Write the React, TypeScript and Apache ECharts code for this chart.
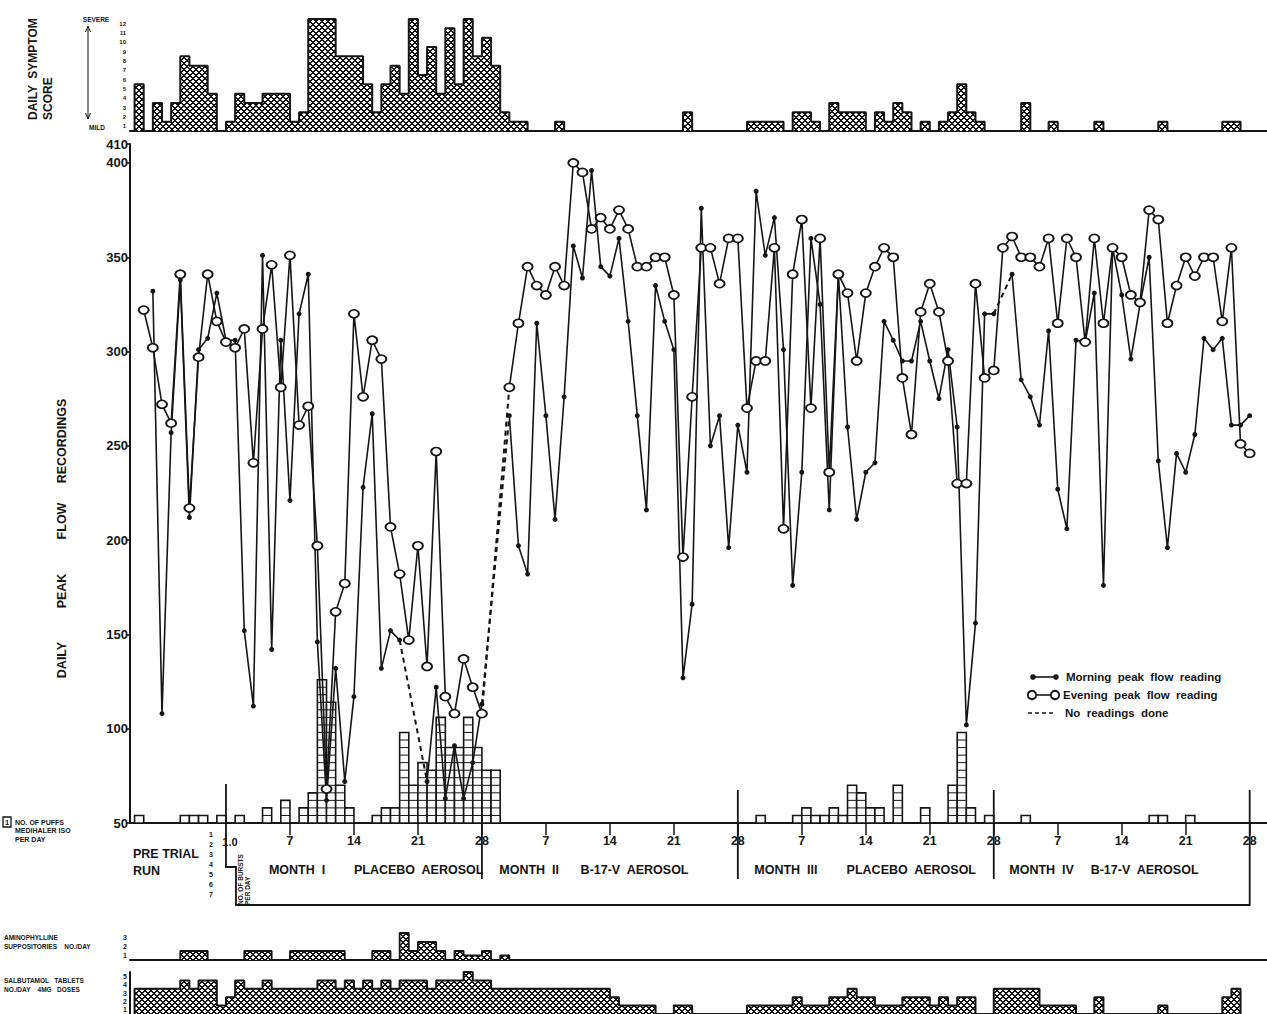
import React, { useEffect, useRef } from "react";
import * as echarts from "echarts";

// ---------- DATA ----------
// Day index: pre-trial run days are -10..0, Month I day 1 = 1, Month II day 1 = 29,
// Month III day 1 = 57, Month IV day 1 = 85 (so day 112 = Month IV day 28).
const FIRST_DAY = -10;

// Morning peak flow reading (l/min), days -10..112, null = no reading
const morningPeakFlow: (number | null)[] = [
  null, null, 332, 108, 257, 338, 212, 301, 307, 331,
  306, 306, 152, 112, 351, 142, 306, 221, 320, 341,
  146, 62, 132, 72, 117, 228, 267, 132, 152, 147,
  null, null, 72, 122, 63, 91, 63, 82, 113, null,
  null, 266, 197, 182, 315, 266, 211, 276, 356, 339,
  396, 345, 340, 360, 316, 266, 216, 335, 316, 301,
  127, 166, 376, 250, 266, 196, 261, 236, 385, 351,
  371, 301, 176, 236, 360, 325, 216, 341, 260, 211,
  236, 241, 316, 306, 295, 295, 316, 295, 275, 301,
  260, 102, 156, 320, 320, null, 341, 285, 276, 261,
  311, 227, 206, 306, 305, 331, 176, 355, 330, 296,
  325, 350, 242, 196, 246, 236, 256, 307, 301, 307,
  261, 261, 266,
];

// Evening peak flow reading (l/min), days -10..112
const eveningPeakFlow: (number | null)[] = [
  null, 322, 302, 272, 262, 341, 217, 297, 341, 316,
  305, 302, 312, 241, 312, 346, 281, 351, 261, 271,
  197, 68, 162, 177, 320, 276, 306, 296, 207, 182,
  147, 197, 133, 247, 117, 108, 137, 122, 108, null,
  null, 281, 315, 345, 335, 330, 345, 335, 400, 395,
  365, 371, 365, 375, 365, 345, 345, 350, 350, 330,
  191, 276, 355, 355, 336, 360, 360, 270, 295, 295,
  355, 206, 341, 370, 270, 360, 236, 341, 331, 295,
  331, 345, 355, 350, 286, 256, 321, 336, 321, 295,
  230, 230, 336, 286, 290, 355, 361, 350, 350, 345,
  360, 315, 360, 350, 305, 360, 315, 355, 350, 330,
  326, 375, 370, 315, 335, 350, 340, 350, 350, 316,
  355, 251, 246,
];

// Number of puffs Medihaler Iso per day: [day, puffs]
const puffsPerDay: [number, number][] = [
  [-10, 1], [-5, 1], [-4, 1], [-3, 1], [-1, 1], [1, 1], [4, 2], [6, 3], [8, 2], [9, 4],
  [10, 19], [11, 16], [12, 5], [13, 2], [16, 1], [17, 2], [18, 2], [19, 12], [20, 5],
  [21, 8], [22, 7], [23, 14], [24, 10], [25, 10], [26, 14], [27, 10], [28, 7], [29, 7],
  [58, 1], [62, 1], [63, 2], [64, 1], [65, 1], [66, 2], [67, 1], [68, 5], [69, 4],
  [70, 2], [71, 2], [73, 5], [76, 2], [79, 5], [80, 12], [81, 2], [83, 1],
  [87, 1], [101, 1], [102, 1], [105, 1],
];

// Daily symptom score: [day, score]
const symptomScore: [number, number][] = [
  [-10, 5], [-8, 3], [-7, 1], [-6, 3], [-5, 8], [-4, 7], [-3, 7], [-2, 4], [0, 1], [1, 4],
  [2, 3], [3, 3], [4, 4], [5, 4], [6, 4], [7, 1], [8, 2], [9, 12], [10, 12], [11, 12],
  [12, 8], [13, 8], [14, 8], [15, 5], [16, 2], [17, 5], [18, 7], [19, 4], [20, 12],
  [21, 6], [22, 9], [23, 4], [24, 11], [25, 5], [26, 12], [27, 8], [28, 10], [29, 7],
  [30, 2], [31, 1], [32, 1], [36, 1], [50, 2], [57, 1], [58, 1], [59, 1], [60, 1],
  [62, 2], [63, 2], [64, 1], [66, 3], [67, 2], [68, 2], [69, 2], [71, 2], [72, 1],
  [73, 3], [74, 2], [76, 1], [78, 1], [79, 2], [80, 5], [81, 2], [82, 1], [87, 3],
  [90, 1], [95, 1], [102, 1], [109, 1], [110, 1],
];

// Aminophylline suppositories no./day: [day, count]
const aminophyllinePerDay: [number, number][] = [
  [-5, 1], [-4, 1], [-3, 1], [2, 1], [3, 1], [4, 1], [7, 1], [8, 1], [9, 1], [10, 1],
  [11, 1], [12, 1], [16, 1], [17, 1], [19, 3], [20, 1], [21, 2], [22, 2], [23, 1],
  [25, 1], [26, 0.5], [27, 0.5], [28, 1], [30, 0.5],
];

// Salbutamol tablets no./day (4 mg doses): [day, count]
const salbutamolPerDay: [number, number][] = [
  [-10, 3], [-9, 3], [-8, 3], [-7, 3], [-6, 3], [-5, 4], [-4, 3], [-3, 4], [-2, 4], [-1, 1],
  [0, 2], [1, 4], [2, 3], [3, 3], [4, 4], [5, 3], [6, 3], [7, 3], [8, 3], [9, 3],
  [10, 4], [11, 4], [12, 3], [13, 4], [14, 3], [15, 4], [16, 3], [17, 4], [18, 3],
  [19, 4], [20, 4], [21, 4], [22, 3], [23, 4], [24, 4], [25, 4], [26, 5], [27, 4], [28, 4],
  [29, 3], [30, 3], [31, 3], [32, 3], [33, 3], [34, 3], [35, 3], [36, 3], [37, 3], [38, 3],
  [39, 3], [40, 3], [41, 3], [42, 2], [43, 1], [44, 1], [45, 1], [46, 1], [49, 1], [50, 1],
  [57, 1], [58, 1], [59, 1], [60, 1], [61, 1], [62, 2], [63, 1], [64, 1], [65, 1], [66, 2],
  [67, 2], [68, 3], [69, 2], [70, 2], [71, 1], [72, 1], [73, 1], [74, 2], [75, 2], [76, 2],
  [77, 1], [78, 2], [79, 1], [80, 2], [81, 2], [84, 3], [85, 3], [86, 3], [87, 3], [88, 3],
  [89, 1], [90, 1], [91, 1], [92, 1], [95, 2], [102, 1], [109, 2], [110, 3],
];

const peakFlowTicks = [50, 100, 150, 200, 250, 300, 350, 400, 410];
const dayTicks = [7, 14, 21, 28, 35, 42, 49, 56, 63, 70, 77, 84, 91, 98, 105, 112];
const symptomTicks = [0.5, 1.5, 2.5, 3.5, 4.5, 5.5, 6.5, 7.5, 8.5, 9.5, 10.5, 11.5];
const aminoTicks = [0.5, 1.5, 2.5];
const salbuTicks = [0.5, 1.5, 2.5, 3.5, 4.5];
const monthLabels = [
  { text: "MONTH  I", day: 4.7 }, { text: "PLACEBO  AEROSOL", day: 14 },
  { text: "MONTH  II", day: 29.9 }, { text: "B-17-V  AEROSOL", day: 38.8 },
  { text: "MONTH  III", day: 57.8 }, { text: "PLACEBO  AEROSOL", day: 67.9 },
  { text: "MONTH  IV", day: 85.7 }, { text: "B-17-V  AEROSOL", day: 94.6 },
];

// ---------- HELPERS ----------
const INK = "#151515";
const FONT = '"Liberation Sans", Arial, sans-serif';

function makeMesh() {
  const n = 6;
  const c = document.createElement("canvas");
  c.width = n;
  c.height = n;
  const g = c.getContext("2d")!;
  const img = g.createImageData(n, n);
  for (let j = 0; j < n; j++) {
    for (let i = 0; i < n; i++) {
      const a = (i + j) % n;
      const b = (i - j + n) % n;
      const dark = a < 2 || b < 2;
      const k = (j * n + i) * 4;
      const v = dark ? 20 : 255;
      img.data[k] = v; img.data[k + 1] = v; img.data[k + 2] = v; img.data[k + 3] = 255;
    }
  }
  g.putImageData(img, 0, 0);
  return { image: c, repeat: "repeat", imageWidth: n, imageHeight: n } as any;
}

function stepData(pairs: [number, number][]) {
  const m = new Map<number, number>(pairs);
  const days = pairs.map((p) => p[0]);
  const lo = Math.min(...days);
  const hi = Math.max(...days);
  const out: [number, number][] = [[lo, 0]];
  for (let d = lo; d <= hi; d++) out.push([d, m.get(d) ?? 0]);
  out.push([hi + 1, 0]);
  return out;
}

function lineData(values: (number | null)[]) {
  return values.map((v, i) => [i + FIRST_DAY, v == null ? "-" : v]);
}

function gapData(values: (number | null)[]) {
  const out: any[] = [];
  let last = -1;
  values.forEach((v, i) => {
    if (v == null) return;
    if (last >= 0 && i - last > 1) {
      out.push([last + FIRST_DAY, values[last]]);
      out.push([i + FIRST_DAY, v]);
      out.push([i + FIRST_DAY + 0.01, "-"]);
    }
    last = i;
  });
  return out;
}

function txt(text: string, x: number, y: number, size: number, opt: any = {}) {
  const align = opt.align || "left";
  const va = opt.va || "middle";
  return {
    type: "text", x, y, rotation: opt.rot || 0, silent: true, z: 10,
    style: {
      text, font: `${opt.weight || "bold"} ${size}px ${FONT}`, fill: INK,
      align, verticalAlign: va, textAlign: align, textVerticalAlign: va,
    },
  };
}
function ln(x1: number, y1: number, x2: number, y2: number, w = 1.8, dash?: number[]) {
  return {
    type: "line", silent: true, z: 10, shape: { x1, y1, x2, y2 },
    style: { stroke: INK, lineWidth: w, lineDash: dash || null },
  };
}

const XMIN = -10.5;
const XMAX = 113.5;
const GRID_LEFT = 130;
const GRID_W = 1133.4;

function baseX(gridIndex: number) {
  return {
    type: "value", gridIndex, min: XMIN, max: XMAX,
    axisLine: { show: true, onZero: false, lineStyle: { color: INK, width: 2 } },
    axisTick: { show: false }, axisLabel: { show: false }, splitLine: { show: false },
  };
}

export default function App() {
  const ref = useRef<HTMLDivElement>(null);
  useEffect(() => {
    if (!ref.current) return;
    const chart = echarts.init(ref.current, null, { renderer: "svg" });
    const mesh = makeMesh();

    const smallLabel = (size: number) => ({
      show: true, fontSize: size, fontWeight: "bold", color: INK, fontFamily: FONT, margin: 3,
      formatter: (v: number) => String(Math.ceil(v)),
    });

    const option: any = {
      animation: false,
      backgroundColor: "#fff",
      grid: [
        { left: GRID_LEFT, width: GRID_W, top: 19, height: 112 },
        { left: GRID_LEFT, width: GRID_W, top: 144.1, height: 678.9 },
        { left: GRID_LEFT, width: GRID_W, top: 933, height: 27 },
        { left: GRID_LEFT, width: GRID_W, top: 972, height: 45 },
      ],
      xAxis: [
        baseX(0),
        {
          ...baseX(1),
          axisTick: { show: true, customValues: dayTicks, length: 12, lineStyle: { color: INK, width: 1.5 } },
          axisLabel: {
            show: true, customValues: dayTicks, margin: 11, fontSize: 12.5, fontWeight: "bold",
            color: INK, fontFamily: FONT, formatter: (v: number) => String(((v - 1) % 28) + 1),
          },
        },
        baseX(2),
        { ...baseX(3), axisLine: { show: false } },
      ],
      yAxis: [
        {
          type: "value", gridIndex: 0, min: 0, max: 12, splitLine: { show: false },
          axisLine: { show: false, onZero: false }, axisTick: { show: false },
          axisLabel: { ...smallLabel(6), customValues: symptomTicks, margin: 4 },
        },
        {
          type: "value", gridIndex: 1, min: 50, max: 410, splitLine: { show: false },
          axisLine: { show: true, onZero: false, lineStyle: { color: INK, width: 2 } },
          axisTick: { show: true, customValues: peakFlowTicks, length: 4, lineStyle: { color: INK, width: 1.5 } },
          axisLabel: {
            show: true, customValues: peakFlowTicks, fontSize: 13, fontWeight: "bold",
            color: INK, fontFamily: FONT, margin: 2,
          },
        },
        { type: "value", gridIndex: 1, min: 0, max: 90, show: false, axisLine: { onZero: false } },
        {
          type: "value", gridIndex: 2, min: 0, max: 3, splitLine: { show: false },
          axisLine: { show: false, onZero: false }, axisTick: { show: false },
          axisLabel: { ...smallLabel(7), customValues: aminoTicks },
        },
        {
          type: "value", gridIndex: 3, min: 0, max: 5, splitLine: { show: false },
          axisLine: { show: true, onZero: false, lineStyle: { color: INK, width: 2 } }, axisTick: { show: false },
          axisLabel: { ...smallLabel(7), customValues: salbuTicks },
        },
      ],
      series: [
        {
          name: "Daily symptom score", type: "line", xAxisIndex: 0, yAxisIndex: 0,
          step: "end", symbol: "none", data: stepData(symptomScore),
          lineStyle: { color: INK, width: 2 }, areaStyle: { color: mesh, opacity: 1 }, z: 2,
        },
        {
          name: "Puffs Medihaler Iso", type: "custom", xAxisIndex: 1, yAxisIndex: 2,
          data: puffsPerDay, z: 1,
          renderItem: (_p: any, api: any) => {
            const d = api.value(0);
            const n = api.value(1);
            const p0 = api.coord([d, 0]);
            const p1 = api.coord([d + 1, n]);
            const children: any[] = [
              {
                type: "rect",
                shape: { x: p0[0], y: p1[1], width: p1[0] - p0[0], height: p0[1] - p1[1] },
                style: { fill: "#fff", stroke: INK, lineWidth: 1.6 },
              },
            ];
            for (let k = 1; k < n; k++) {
              const y = api.coord([d, k])[1];
              children.push({
                type: "line", shape: { x1: p0[0], y1: y, x2: p1[0], y2: y },
                style: { stroke: INK, lineWidth: 1 },
              });
            }
            return { type: "group", children };
          },
        },
        {
          name: "Morning peak flow reading", type: "line", xAxisIndex: 1, yAxisIndex: 1,
          data: lineData(morningPeakFlow), symbol: "circle", symbolSize: 5,
          itemStyle: { color: INK }, lineStyle: { color: INK, width: 1.6 }, z: 3,
        },
        {
          name: "Evening peak flow reading", type: "line", xAxisIndex: 1, yAxisIndex: 1,
          data: lineData(eveningPeakFlow), symbol: "circle", symbolSize: [10, 8],
          itemStyle: { color: "#fff", borderColor: INK, borderWidth: 1.8 },
          lineStyle: { color: INK, width: 1.6 }, z: 4,
        },
        {
          name: "No readings done (morning)", type: "line", xAxisIndex: 1, yAxisIndex: 1,
          data: gapData(morningPeakFlow), symbol: "none",
          lineStyle: { color: INK, width: 2, type: [5, 4] }, z: 3,
        },
        {
          name: "No readings done (evening)", type: "line", xAxisIndex: 1, yAxisIndex: 1,
          data: gapData(eveningPeakFlow), symbol: "none",
          lineStyle: { color: INK, width: 2, type: [5, 4] }, z: 3,
        },
        {
          name: "Aminophylline suppositories", type: "line", xAxisIndex: 2, yAxisIndex: 3,
          step: "end", symbol: "none", data: stepData(aminophyllinePerDay),
          lineStyle: { color: INK, width: 1.8 }, areaStyle: { color: mesh, opacity: 1 },
        },
        {
          name: "Salbutamol tablets", type: "line", xAxisIndex: 3, yAxisIndex: 4,
          step: "end", symbol: "none", data: stepData(salbutamolPerDay),
          lineStyle: { color: INK, width: 2 }, areaStyle: { color: mesh, opacity: 1 },
        },
      ],
    };
    chart.setOption(option);

    const px = (d: number) => chart.convertToPixel({ xAxisIndex: 1 } as any, d) as unknown as number;
    const x0 = px(0);
    const x112 = px(112);
    const xEnd = px(XMAX);
    const g: any[] = [];

    // axis baselines run on to the page edge
    g.push(ln(xEnd, 823, 1267, 823, 2));
    g.push(ln(xEnd, 131, 1267, 131, 2));
    g.push(ln(xEnd, 960, 1267, 960, 2));

    // symptom panel titles
    g.push(txt("DAILY  SYMPTOM", 33, 120, 12, { rot: Math.PI / 2 }));
    g.push(txt("SCORE", 48, 120, 12, { rot: Math.PI / 2 }));
    g.push(txt("SEVERE", 96, 19, 6.5, { align: "center" }));
    g.push(txt("MILD", 97, 127, 6.5, { align: "center" }));
    g.push(ln(88, 27, 88, 118, 1));
    g.push({ type: "polyline", silent: true, z: 10, shape: { points: [[85.5, 32], [88, 26], [90.5, 32]] }, style: { stroke: INK, fill: "none", lineWidth: 1 } });
    g.push({ type: "polyline", silent: true, z: 10, shape: { points: [[85.5, 113], [88, 119], [90.5, 113]] }, style: { stroke: INK, fill: "none", lineWidth: 1 } });

    // main y title
    g.push(txt("DAILY", 62, 660, 12.5, { rot: Math.PI / 2, align: "center" }));
    g.push(txt("PEAK", 62, 591, 12.5, { rot: Math.PI / 2, align: "center" }));
    g.push(txt("FLOW", 62, 521, 12.5, { rot: Math.PI / 2, align: "center" }));
    g.push(txt("RECORDINGS", 62, 441, 12.5, { rot: Math.PI / 2, align: "center" }));

    // puffs key
    g.push({ type: "rect", silent: true, z: 10, shape: { x: 3, y: 817, width: 8, height: 10 }, style: { fill: "#fff", stroke: INK, lineWidth: 1.3 } });
    g.push(txt("1", 7, 822.5, 7.5, { align: "center" }));
    g.push(txt("NO. OF PUFFS", 15, 822, 7));
    g.push(txt("MEDIHALER ISO", 15, 830.5, 7));
    g.push(txt("PER DAY", 15, 839, 7));

    // x-area texts
    g.push(txt("PRE TRIAL", 133, 854, 12.5));
    g.push(txt("RUN", 133, 871, 12.5));
    g.push(txt("1.0", 230, 842, 11, { align: "center" }));
    for (let i = 1; i <= 7; i++) g.push(txt(String(i), 211, 834 + (i - 1) * 10, 7, { align: "center" }));
    g.push(txt("NO. OF BURSTS", 240, 905, 6.5, { rot: Math.PI / 2 }));
    g.push(txt("PER DAY", 247, 905, 6.5, { rot: Math.PI / 2 }));
    monthLabels.forEach((m) => g.push(txt(m.text, px(m.day), 870, 12.5)));

    // month bracket lines
    g.push({
      type: "polyline", silent: true, z: 10,
      shape: { points: [[x0, 784], [x0, 867], [x0 + 10, 867], [x0 + 10, 905], [x112, 905], [x112, 790]] },
      style: { stroke: INK, fill: "none", lineWidth: 1.8 },
    });
    [28, 56, 84].forEach((d) => g.push(ln(px(d), 790, px(d), 879, 1.8)));

    // legend
    g.push(ln(1033, 677, 1056, 677, 1.6));
    g.push({ type: "circle", silent: true, z: 10, shape: { cx: 1033, cy: 677, r: 2.8 }, style: { fill: INK } });
    g.push({ type: "circle", silent: true, z: 10, shape: { cx: 1056, cy: 677, r: 2.8 }, style: { fill: INK } });
    g.push(txt("Morning  peak  flow  reading", 1066, 677, 11.5));
    g.push(ln(1036, 695, 1052, 695, 1.6));
    g.push({ type: "circle", silent: true, z: 10, shape: { cx: 1032, cy: 695, r: 4.2 }, style: { fill: "#fff", stroke: INK, lineWidth: 1.8 } });
    g.push({ type: "circle", silent: true, z: 10, shape: { cx: 1055, cy: 695, r: 4.2 }, style: { fill: "#fff", stroke: INK, lineWidth: 1.8 } });
    g.push(txt("Evening  peak  flow  reading", 1063, 695, 11.5));
    g.push(ln(1028, 713, 1054, 713, 1.6, [4, 3]));
    g.push(txt("No  readings  done", 1065, 713, 11.5));

    // bottom strip labels
    g.push(txt("AMINOPHYLLINE", 4, 937, 6.5));
    g.push(txt("SUPPOSITORIES    NO./DAY", 4, 946, 6.5));
    g.push(txt("SALBUTAMOL   TABLETS", 4, 980, 6.5));
    g.push(txt("NO./DAY    4MG   DOSES", 4, 989, 6.5));

    chart.setOption({ graphic: { elements: g } });
    return () => chart.dispose();
  }, []);
  return (
    <div
      ref={ref}
      style={{ position: "absolute", left: 0, top: 0, width: 1267, height: 1014, background: "#fff" }}
    />
  );
}
